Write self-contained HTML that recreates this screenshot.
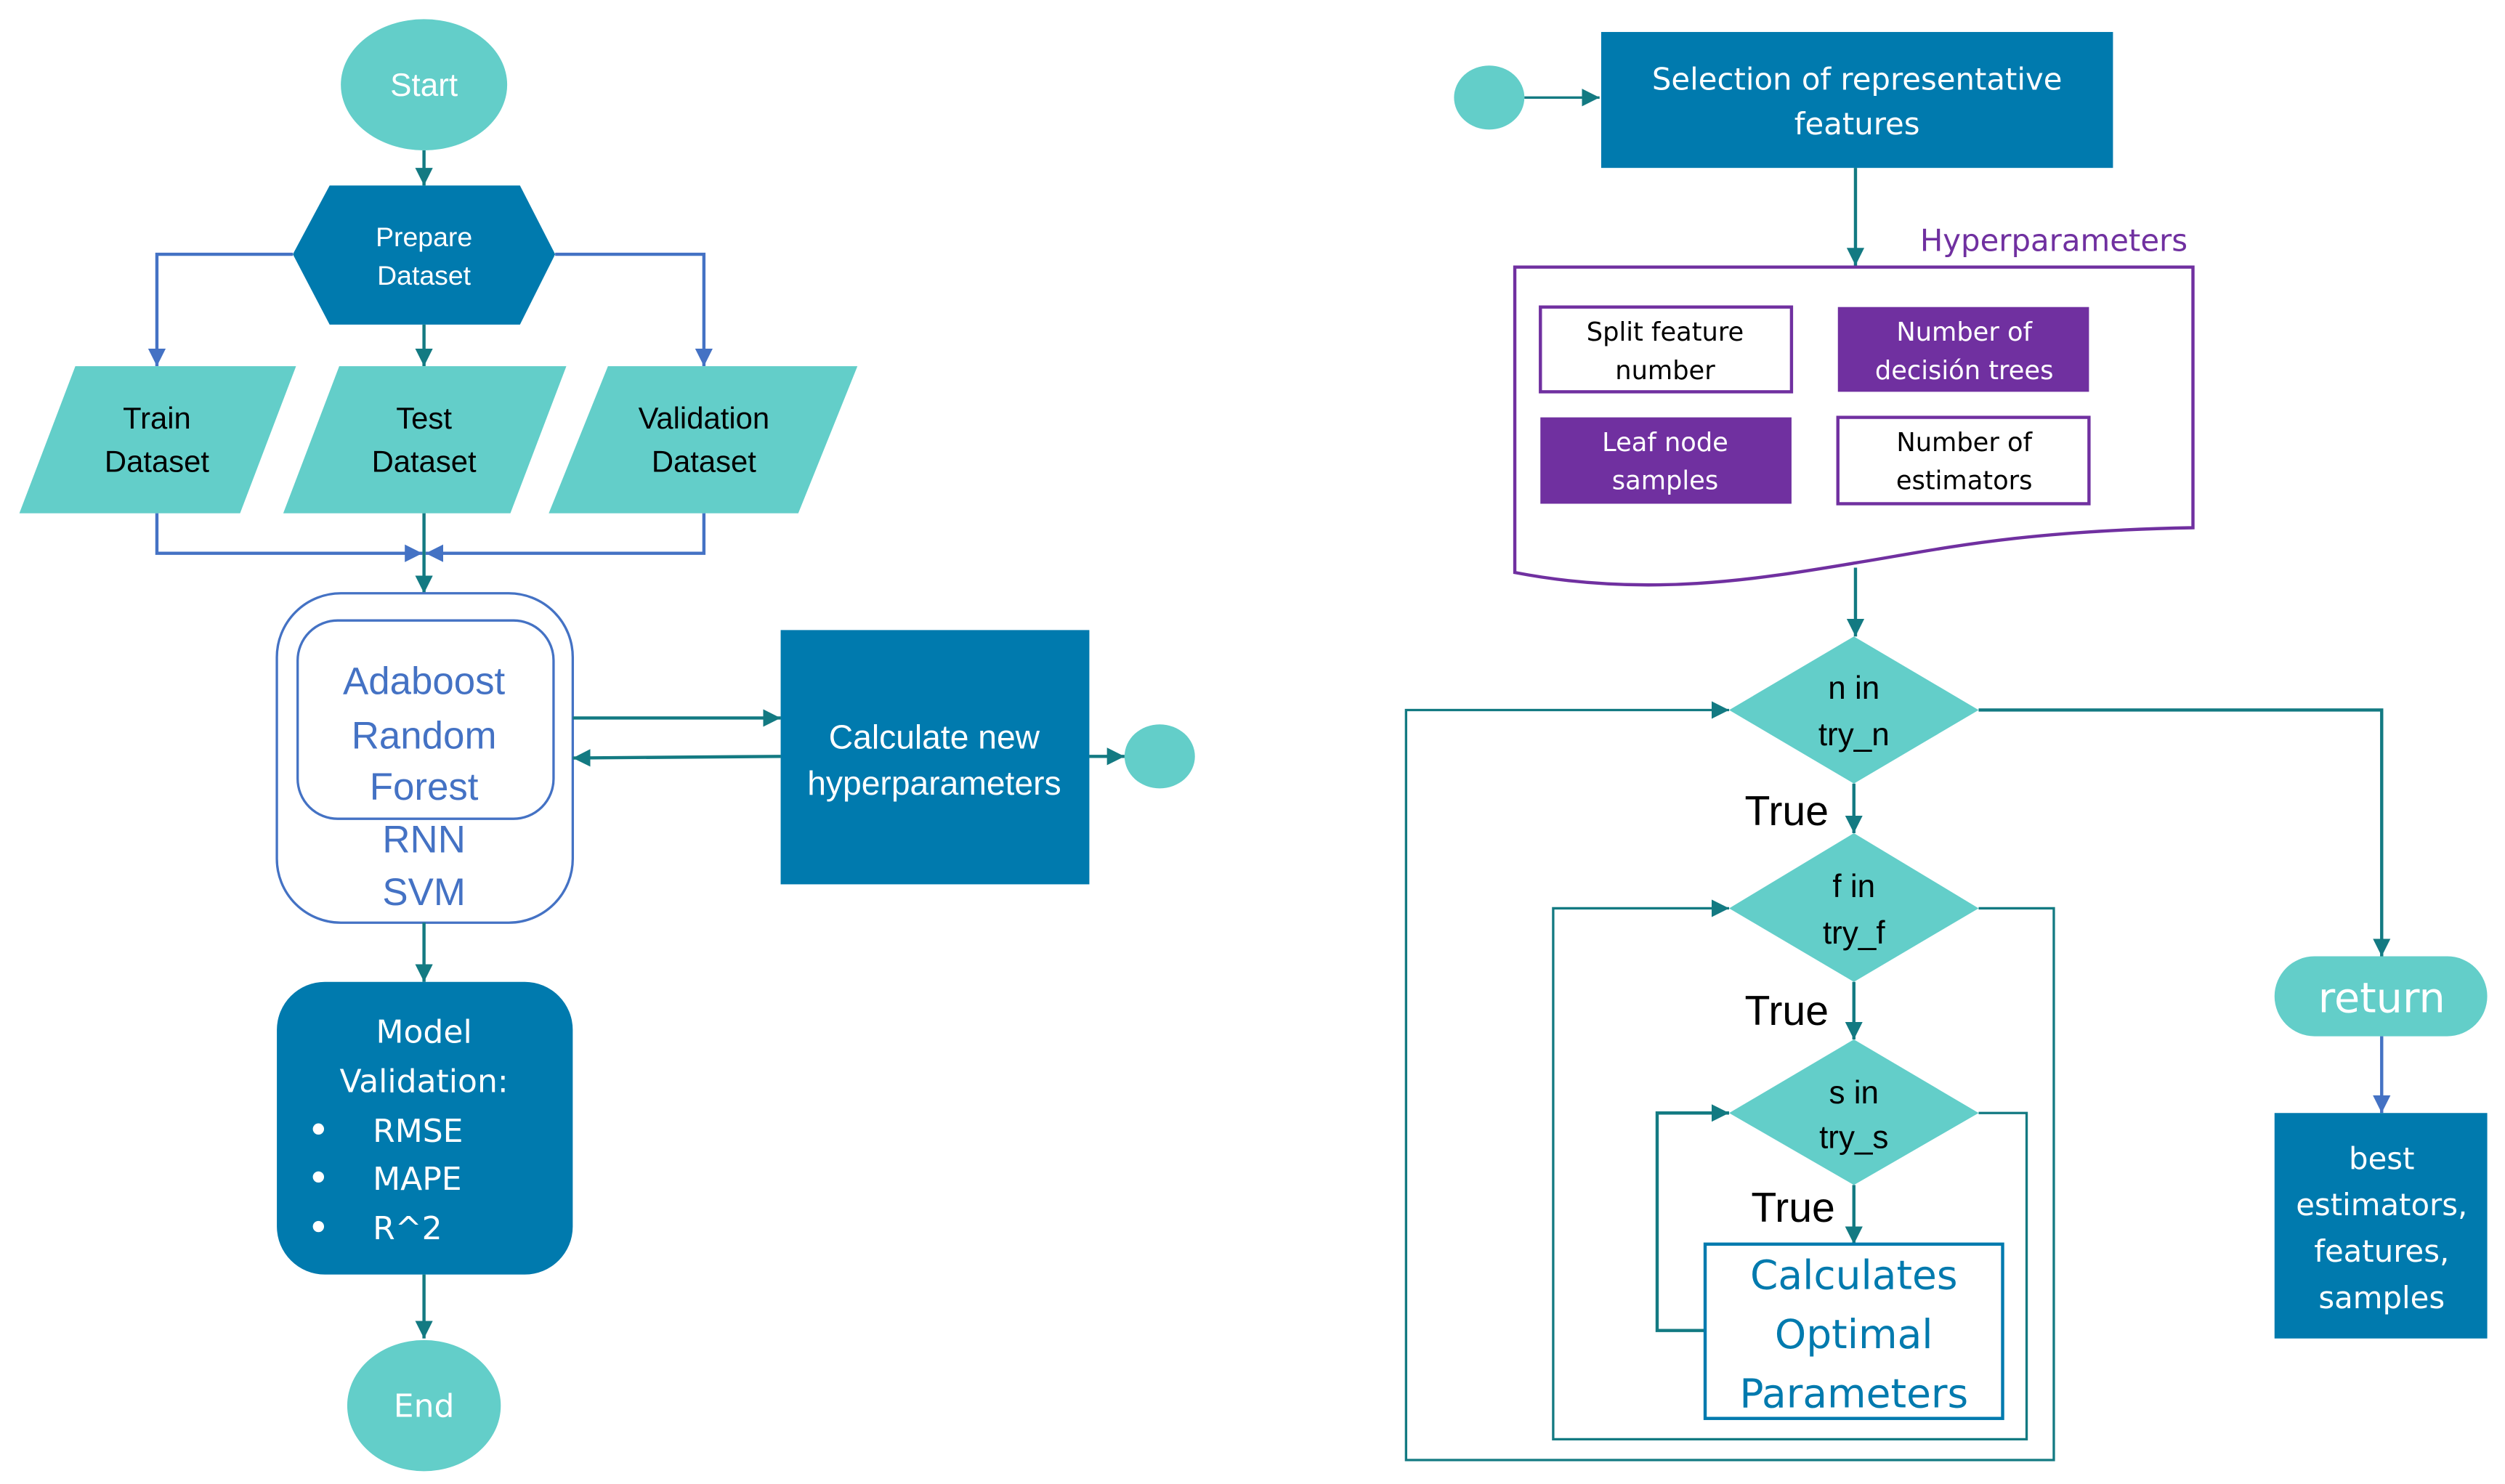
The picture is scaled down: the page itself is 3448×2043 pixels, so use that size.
<!DOCTYPE html>
<html><head><meta charset="utf-8"><style>html,body{margin:0;padding:0;background:#fff}svg{display:block}</style></head>
<body>
<svg width="3448" height="2043" viewBox="0 0 1566 928" xmlns="http://www.w3.org/2000/svg">
<defs>
<marker id="a" viewBox="0 0 10 10" refX="10" refY="5" markerWidth="5" markerHeight="5" orient="auto-start-reverse" markerUnits="userSpaceOnUse"><path d="M0,0 L10,5 L0,10 z" fill="#137A82"/></marker>
<marker id="at" viewBox="0 0 10 10" refX="10" refY="5" markerWidth="11" markerHeight="11" orient="auto" markerUnits="userSpaceOnUse"><path d="M0,0 L10,5 L0,10 z" fill="#137A82"/></marker>
<marker id="ab" viewBox="0 0 10 10" refX="10" refY="5" markerWidth="11" markerHeight="11" orient="auto" markerUnits="userSpaceOnUse"><path d="M0,0 L10,5 L0,10 z" fill="#4472C4"/></marker>
</defs>
<g font-family="Liberation Sans, sans-serif" text-anchor="middle">
<!-- left side -->
<ellipse cx="265" cy="53" rx="52" ry="41" fill="#63CEC9"/>
<text x="265" y="60" font-size="20" fill="#fff">Start</text>
<line x1="265" y1="94" x2="265" y2="116" stroke="#137A82" stroke-width="2" marker-end="url(#at)"/>
<polygon points="183,159 206,116 325,116 347,159 325,203 206,203" fill="#007AAE"/>
<text x="265" y="154" font-size="17" fill="#fff">Prepare</text>
<text x="265" y="178" font-size="17" fill="#fff">Dataset</text>
<polyline points="183,159 98,159 98,229" fill="none" stroke="#4472C4" stroke-width="2" marker-end="url(#ab)"/>
<polyline points="347,159 440,159 440,229" fill="none" stroke="#4472C4" stroke-width="2" marker-end="url(#ab)"/>
<line x1="265" y1="203" x2="265" y2="229" stroke="#137A82" stroke-width="2" marker-end="url(#at)"/>
<polygon points="12,321 47,229 185,229 150,321" fill="#63CEC9"/>
<polygon points="177,321 212,229 354,229 319,321" fill="#63CEC9"/>
<polygon points="343,321 380,229 536,229 499,321" fill="#63CEC9"/>
<g font-size="19" fill="#000">
<text x="98" y="268">Train</text><text x="98" y="295">Dataset</text>
<text x="265" y="268">Test</text><text x="265" y="295">Dataset</text>
<text x="440" y="268">Validation</text><text x="440" y="295">Dataset</text>
</g>
<polyline points="98,321 98,346 264,346" fill="none" stroke="#4472C4" stroke-width="2" marker-end="url(#ab)"/>
<polyline points="440,321 440,346 266,346" fill="none" stroke="#4472C4" stroke-width="2" marker-end="url(#ab)"/>
<line x1="265" y1="321" x2="265" y2="371" stroke="#137A82" stroke-width="2" marker-end="url(#at)"/>
<rect x="173" y="371" width="185" height="206" rx="40" fill="#fff" stroke="#4472C4" stroke-width="1.5"/>
<rect x="186" y="388" width="160" height="124" rx="25" fill="none" stroke="#4472C4" stroke-width="1.5"/>
<g font-size="24" fill="#4472C4">
<text x="265" y="434">Adaboost</text><text x="265" y="468">Random</text><text x="265" y="500">Forest</text>
<text x="265" y="533">RNN</text><text x="265" y="566">SVM</text>
</g>
<rect x="488" y="394" width="193" height="159" fill="#007AAE"/>
<text x="584" y="468" font-size="21" fill="#fff">Calculate new</text>
<text x="584" y="497" font-size="21" fill="#fff">hyperparameters</text>
<line x1="358" y1="449" x2="488" y2="449" stroke="#137A82" stroke-width="2" marker-end="url(#at)"/>
<line x1="488" y1="473" x2="358" y2="474" stroke="#137A82" stroke-width="2" marker-end="url(#at)"/>
<line x1="681" y1="473" x2="703" y2="473" stroke="#137A82" stroke-width="2" marker-end="url(#at)"/>
<ellipse cx="725" cy="473" rx="22" ry="20" fill="#63CEC9"/>
<line x1="265" y1="577" x2="265" y2="614" stroke="#137A82" stroke-width="2" marker-end="url(#at)"/>
<rect x="173" y="614" width="185" height="183" rx="30" fill="#007AAE"/>
<g font-family="DejaVu Sans, sans-serif" font-size="20" fill="#fff">
<text x="265" y="652">Model</text><text x="265" y="683">Validation:</text>
<g text-anchor="start"><text x="233" y="714">RMSE</text><text x="233" y="744">MAPE</text><text x="233" y="775">R^2</text></g>
</g>
<circle cx="199" cy="706" r="3.5" fill="#fff"/><circle cx="199" cy="736" r="3.5" fill="#fff"/><circle cx="199" cy="767" r="3.5" fill="#fff"/>
<line x1="265" y1="797" x2="265" y2="837" stroke="#137A82" stroke-width="2" marker-end="url(#at)"/>
<ellipse cx="265" cy="879" rx="48" ry="41" fill="#63CEC9"/>
<text x="265" y="886" font-size="20" fill="#fff" font-family="DejaVu Sans, sans-serif">End</text>

<!-- right side -->
<ellipse cx="931" cy="61" rx="22" ry="20" fill="#63CEC9"/>
<line x1="953" y1="61" x2="1000" y2="61" stroke="#137A82" stroke-width="1.5" marker-end="url(#at)"/>
<rect x="1001" y="20" width="320" height="85" fill="#007AAE"/>
<g font-family="DejaVu Sans, sans-serif" font-size="19" fill="#fff">
<text x="1161" y="56">Selection of representative</text><text x="1161" y="84">features</text>
</g>
<line x1="1160" y1="105" x2="1160" y2="166" stroke="#137A82" stroke-width="2" marker-end="url(#at)"/>
<text x="1284" y="157" font-family="DejaVu Sans, sans-serif" font-size="19" fill="#7030A0">Hyperparameters</text>
<path d="M947,167 H1371 V330 C1260,332 1210,344 1160,352 C1100,362 1030,374 947,358 Z" fill="#fff" stroke="#7030A0" stroke-width="2"/>
<rect x="963" y="192" width="157" height="53" fill="#fff" stroke="#7030A0" stroke-width="2"/>
<rect x="1149" y="192" width="157" height="53" fill="#7030A0"/>
<rect x="963" y="261" width="157" height="54" fill="#7030A0"/>
<rect x="1149" y="261" width="157" height="54" fill="#fff" stroke="#7030A0" stroke-width="2"/>
<g font-family="DejaVu Sans, sans-serif" font-size="16">
<text x="1041" y="213" fill="#000">Split feature</text><text x="1041" y="237" fill="#000">number</text>
<text x="1228" y="213" fill="#fff">Number of</text><text x="1228" y="237" fill="#fff">decisión trees</text>
<text x="1041" y="282" fill="#fff">Leaf node</text><text x="1041" y="306" fill="#fff">samples</text>
<text x="1228" y="282" fill="#000">Number of</text><text x="1228" y="306" fill="#000">estimators</text>
</g>
<line x1="1160" y1="355" x2="1160" y2="398" stroke="#137A82" stroke-width="2" marker-end="url(#at)"/>
<!-- loops -->
<polyline points="1237,568 1284,568 1284,913 879,913 879,444 1081,444" fill="none" stroke="#137A82" stroke-width="1.5" marker-end="url(#at)"/>
<polyline points="1237,696 1267,696 1267,900 971,900 971,568 1081,568" fill="none" stroke="#137A82" stroke-width="1.5" marker-end="url(#at)"/>
<polyline points="1066,832 1036,832 1036,696 1081,696" fill="none" stroke="#137A82" stroke-width="2" marker-end="url(#at)"/>
<polyline points="1237,444 1489,444 1489,598" fill="none" stroke="#137A82" stroke-width="2" marker-end="url(#at)"/>
<polygon points="1081,444 1159,398 1237,444 1159,490" fill="#63CEC9"/>
<polygon points="1081,568 1159,521 1237,568 1159,614" fill="#63CEC9"/>
<polygon points="1081,696 1159,650 1237,696 1159,741" fill="#63CEC9"/>
<g font-size="20" fill="#000">
<text x="1159" y="437">n in</text><text x="1159" y="466">try_n</text>
<text x="1159" y="561">f in</text><text x="1159" y="590">try_f</text>
<text x="1159" y="690">s in</text><text x="1159" y="718">try_s</text>
</g>
<g font-size="26" fill="#000">
<text x="1117" y="516">True</text><text x="1117" y="641">True</text><text x="1121" y="764">True</text>
</g>
<line x1="1159" y1="490" x2="1159" y2="521" stroke="#137A82" stroke-width="2" marker-end="url(#at)"/>
<line x1="1159" y1="614" x2="1159" y2="650" stroke="#137A82" stroke-width="2" marker-end="url(#at)"/>
<line x1="1159" y1="741" x2="1159" y2="778" stroke="#137A82" stroke-width="2" marker-end="url(#at)"/>
<rect x="1066" y="778" width="186" height="109" fill="#fff" stroke="#007AAE" stroke-width="2"/>
<g font-family="DejaVu Sans, sans-serif" font-size="25" fill="#007AAE">
<text x="1159" y="806">Calculates</text><text x="1159" y="843">Optimal</text><text x="1159" y="880">Parameters</text>
</g>
<rect x="1422" y="598" width="133" height="50" rx="25" fill="#63CEC9"/>
<text x="1489" y="633" font-family="DejaVu Sans, sans-serif" font-size="26" fill="#fff">return</text>
<line x1="1489" y1="648" x2="1489" y2="696" stroke="#4472C4" stroke-width="2" marker-end="url(#ab)"/>
<rect x="1422" y="696" width="133" height="141" fill="#007AAE"/>
<g font-family="DejaVu Sans, sans-serif" font-size="19" fill="#fff">
<text x="1489" y="731">best</text><text x="1489" y="760">estimators,</text><text x="1489" y="789">features,</text><text x="1489" y="818">samples</text>
</g>
</g>
</svg>
</body></html>
